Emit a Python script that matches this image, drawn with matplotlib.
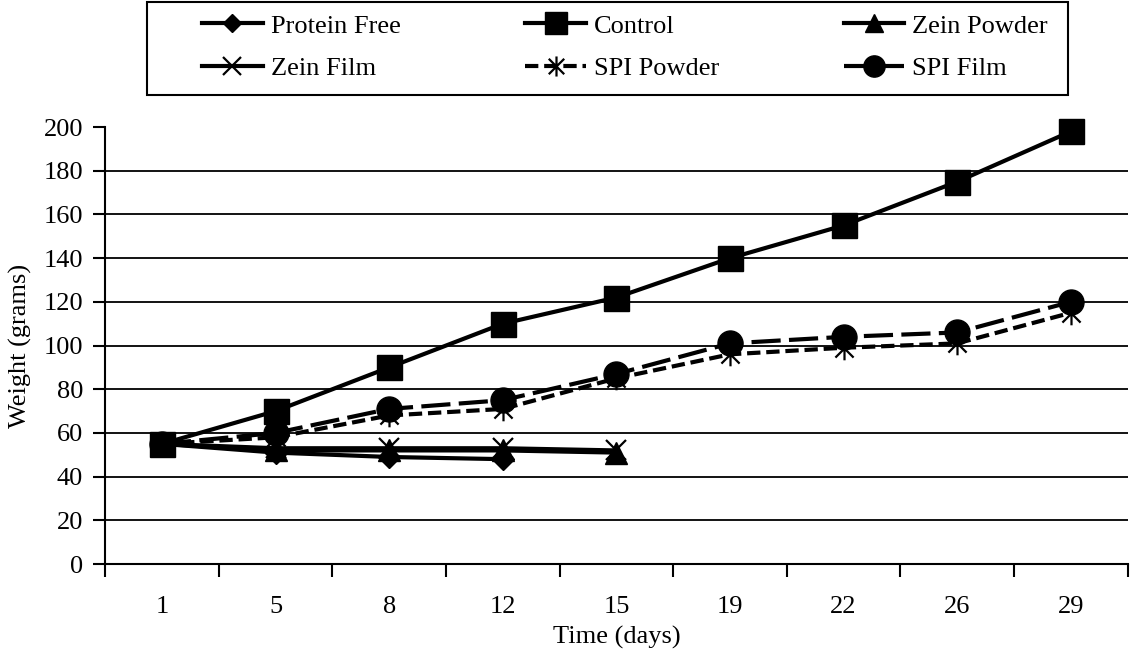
import matplotlib.pyplot as plt
from matplotlib.path import Path
from matplotlib.patches import Rectangle
import numpy as np

plt.rcParams['font.family'] = ['Liberation Serif', 'DejaVu Serif']

# ---- data ----
days = ['1', '5', '8', '12', '15', '19', '22', '26', '29']
protein_free = [55, 51, 49, 48]
control = [55, 70, 90, 110, 122, 140, 155, 175, 198]
zein_powder = [55, 52, 52, 52, 51]
zein_film = [55, 53, 53, 53, 52]
spi_powder = [55, 58, 68, 71, 85, 96, 99, 101, 115]
spi_film = [55, 60, 71, 75, 87, 101, 104, 106, 120]

# Excel style asterisk: an X with a vertical bar through it
star = Path([(-1, -1), (1, 1), (-1, 1), (1, -1), (0, -1.3), (0, 1.3)],
            [Path.MOVETO, Path.LINETO, Path.MOVETO, Path.LINETO, Path.MOVETO, Path.LINETO])

W, H = 1131, 662
fig = plt.figure(figsize=(W / 100, H / 100), dpi=100)
ax = fig.add_axes([0.093, 0.148, 0.904, 0.66])

lw = 3
fs = 19
kw = dict(color='k', lw=lw, zorder=3, clip_on=False)
ax.plot(days, control, marker='s', ms=18, label='Control', **kw)
ax.plot(days[:4], protein_free, marker='D', ms=11, label='Protein Free', **kw)
ax.plot(days[:5], zein_powder, marker='^', ms=16, label='Zein Powder', **kw)
ax.plot(days[:5], zein_film, marker='x', ms=15, mew=1.6, label='Zein Film', **kw)
ax.plot(days, spi_powder, dashes=(3.2, 1.4), marker=star, ms=17, mew=1.6,
        label='SPI Powder', **kw)
ax.plot(days, spi_film, dashes=(7, 2), marker='o', ms=18, label='SPI Film', **kw)

# axes styling (Excel look)
ax.set_xlim(-0.5, len(days) - 0.5)
ax.set_ylim(0, 200)
ax.set_yticks(np.arange(0, 201, 20))
ax.yaxis.grid(True, color='k', lw=1.3)
ax.get_ygridlines()[-1].set_visible(False)
ax.get_ygridlines()[0].set_visible(False)
ax.set_axisbelow(True)
for s in ['top', 'right']:
    ax.spines[s].set_visible(False)
ax.spines['left'].set_linewidth(1.5)
ax.spines['bottom'].set_linewidth(1.5)
ax.set_xticks(np.arange(-0.5, len(days), 1), minor=True)
ax.tick_params(axis='x', which='major', length=0, pad=23, labelsize=fs)
ax.tick_params(axis='x', which='minor', length=9, width=1.5, direction='out')
ax.tick_params(axis='y', length=9, width=1.5, direction='out', pad=7, labelsize=fs)

ax.set_xlabel('Time (days)', fontsize=fs, labelpad=6)
ax.set_ylabel('Weight (grams)', fontsize=fs, labelpad=8)

# legend: 3 columns filled row by row like the original, box drawn separately
h, l = ax.get_legend_handles_labels()
order = ['Protein Free', 'Zein Film', 'Control', 'SPI Powder', 'Zein Powder', 'SPI Film']
hs = [h[l.index(o)] for o in order]
leg = fig.legend(hs, order, ncol=3, loc='center left',
                 bbox_to_anchor=(202 / W, 1 - 47 / H, 846 / W, 0),
                 mode='expand', fontsize=fs, frameon=False,
                 handlelength=2.3, handletextpad=0.3,
                 borderaxespad=0, borderpad=0, labelspacing=0.71, markerscale=0.85)
fig.patches.append(Rectangle((147 / W, 1 - 95 / H), 921 / W, 93 / H, transform=fig.transFigure,
                             fill=False, edgecolor='k', lw=1.5))

plt.savefig('out.png', dpi=100)
